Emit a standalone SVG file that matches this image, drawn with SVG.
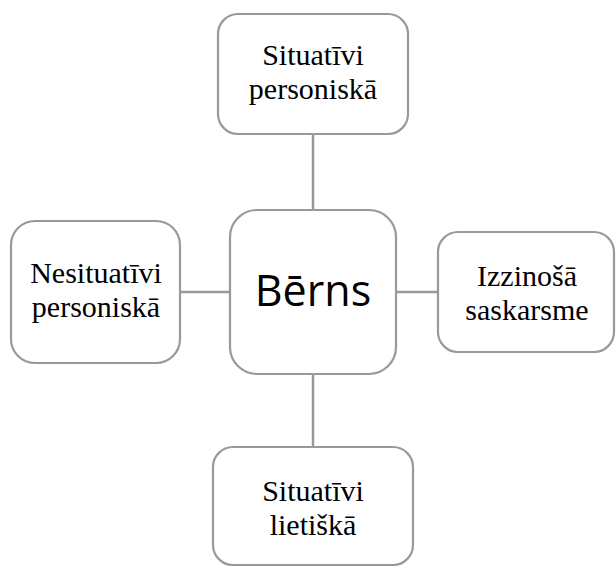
<svg xmlns="http://www.w3.org/2000/svg" width="616" height="568" viewBox="0 0 616 568">
<style>
.box{fill:#fff;stroke:#999;stroke-width:2.2}
.con{stroke:#999;stroke-width:2.5;fill:none}
.t{font-family:"Liberation Serif","Times New Roman",serif;font-size:30px;fill:#000;text-anchor:middle}
.c{font-family:"Open Sans","Noto Sans",sans-serif;font-size:43px;fill:#000;text-anchor:middle}
</style>
<rect width="616" height="568" fill="#fff"/>
<g id="connectors">
<line class="con" x1="313" y1="134" x2="313" y2="210"/>
<line class="con" x1="313" y1="374" x2="313" y2="447"/>
<line class="con" x1="180" y1="292" x2="230" y2="292"/>
<line class="con" x1="396" y1="292" x2="438" y2="292"/>
</g>
<g id="top">
<rect class="box" x="218" y="14" width="190" height="120" rx="20"/>
<text class="t"><tspan x="313" y="65">Situatīvi</tspan><tspan x="313" y="98.5">personiskā</tspan></text>
</g>
<g id="center">
<rect class="box" x="230" y="210" width="166" height="164" rx="27"/>
<text class="c" x="313" y="306">Bērns</text>
</g>
<g id="left">
<rect class="box" x="11" y="221" width="169" height="142" rx="24"/>
<text class="t"><tspan x="96" y="283">Nesituatīvi</tspan><tspan x="96" y="316.5">personiskā</tspan></text>
</g>
<g id="right">
<rect class="box" x="438" y="232" width="176" height="120" rx="20"/>
<text class="t"><tspan x="527" y="286">Izzinošā</tspan><tspan x="527" y="319.5">saskarsme</tspan></text>
</g>
<g id="bottom">
<rect class="box" x="213" y="447" width="200" height="118" rx="20"/>
<text class="t"><tspan x="313" y="501">Situatīvi</tspan><tspan x="313" y="534.5">lietiškā</tspan></text>
</g>
</svg>
